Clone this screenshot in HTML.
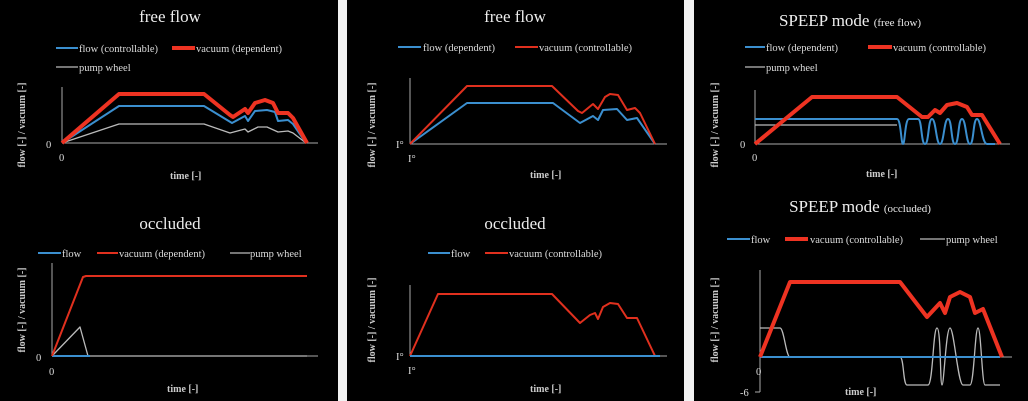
<!DOCTYPE html>
<html><head><meta charset="utf-8"><style>
html,body{margin:0;padding:0;background:#000;width:1028px;height:401px;overflow:hidden}
svg{display:block}
text{font-family:"Liberation Serif",serif;fill:#ddd}
.t{font-size:17px;text-anchor:middle;fill:#eee}
.l{font-size:10.5px}
.k{font-size:10px;font-weight:bold;fill:#ccc}
.ax{stroke:#aaa;stroke-width:1;fill:none}
.b{stroke:#3b8fcf;stroke-width:2;fill:none;stroke-linejoin:round}
.r{stroke:#e0301e;stroke-width:2;fill:none;stroke-linejoin:round}
.R{stroke:#ee3322;stroke-width:4;fill:none;stroke-linejoin:round}
.g{stroke:#bbb;stroke-width:1.3;fill:none;stroke-linejoin:round}
</style></head><body>
<svg width="1028" height="401" viewBox="0 0 1028 401" xmlns="http://www.w3.org/2000/svg">
<rect width="1028" height="401" fill="#000"/>
<rect x="338" y="0" width="9" height="401" fill="#f2f2f2"/>
<rect x="684" y="0" width="10" height="401" fill="#f2f2f2"/>

<!-- Panel 1 top -->
<text class="t" x="170" y="22">free flow</text>
<line x1="56" y1="48" x2="78" y2="48" class="b" stroke-width="3"/><text class="l" x="79" y="52">flow (controllable)</text>
<line x1="172" y1="48" x2="195" y2="48" class="R" stroke-width="3.5"/><text class="l" x="196" y="52">vacuum (dependent)</text>
<line x1="56" y1="67" x2="78" y2="67" class="g"/><text class="l" x="79" y="71">pump wheel</text>
<line x1="62" y1="87" x2="62" y2="143" class="ax"/><line x1="62" y1="143" x2="318" y2="143" class="ax"/>
<text class="l" x="46" y="148">0</text><text class="l" x="59" y="161">0</text>
<text class="k" x="170" y="179">time [-]</text>
<text class="k" transform="translate(25,125) rotate(-90)" text-anchor="middle">flow [-] / vacuum [-]</text>
<polyline class="g" points="62,143 119,124 204,124 230,133 245,129 248,132 258,127 267,127 278,132 288,131 293,133 306,143"/>
<polyline class="b" points="62,143 119,106 204,106 232,123 245,116 248,121 255,111 267,110 275,112 278,121 288,120 293,124 306,143"/>
<polyline class="R" stroke-width="3" points="62,143 119,94 204,94 230,115 233,117 245,109 248,113 255,103 265,100 273,103 278,113 288,113 293,118 307,143"/>

<!-- Panel 1 bottom -->
<text class="t" x="170" y="229">occluded</text>
<line x1="38" y1="253" x2="61" y2="253" class="b"/><text class="l" x="62" y="257">flow</text>
<line x1="97" y1="253" x2="118" y2="253" class="r"/><text class="l" x="119" y="257">vacuum (dependent)</text>
<line x1="230" y1="253" x2="250" y2="253" class="g" stroke-width="2"/><text class="l" x="250" y="257">pump wheel</text>
<line x1="52" y1="263" x2="52" y2="356" class="ax"/><line x1="52" y1="356" x2="318" y2="356" class="ax"/>
<text class="l" x="36" y="361">0</text><text class="l" x="49" y="375">0</text>
<text class="k" x="167" y="392">time [-]</text>
<text class="k" transform="translate(25,310) rotate(-90)" text-anchor="middle">flow [-] / vacuum [-]</text>
<polyline class="g" stroke-width="2" points="52,356 80,327 88,356 307,356"/>
<polyline class="b" points="52,356 90,356"/>
<polyline class="r" points="52,356 83,277 86,276 307,276"/>

<!-- Panel 2 top -->
<text class="t" x="515" y="22">free flow</text>
<line x1="398" y1="47" x2="421" y2="47" class="b" stroke-width="3"/><text class="l" x="423" y="51">flow (dependent)</text>
<line x1="515" y1="47" x2="538" y2="47" class="r"/><text class="l" x="539" y="51">vacuum (controllable)</text>
<line x1="410" y1="78" x2="410" y2="144" class="ax"/><line x1="410" y1="144" x2="667" y2="144" class="ax"/>
<text class="l" x="396" y="148">I°</text><text class="l" x="408" y="162">I°</text>
<text class="k" x="530" y="178">time [-]</text>
<text class="k" transform="translate(375,125) rotate(-90)" text-anchor="middle">flow [-] / vacuum [-]</text>
<polyline class="b" points="410,144 467,103 553,103 580,123 593,116 598,120 603,110 617,109 627,120 637,118 655,144"/>
<polyline class="r" points="410,144 467,86 552,86 578,111 582,113 593,104 598,109 605,97 610,94 618,95 627,110 635,108 640,113 655,144"/>

<!-- Panel 2 bottom -->
<text class="t" x="515" y="229">occluded</text>
<line x1="428" y1="253" x2="450" y2="253" class="b"/><text class="l" x="451" y="257">flow</text>
<line x1="485" y1="253" x2="508" y2="253" class="r"/><text class="l" x="509" y="257">vacuum (controllable)</text>
<line x1="410" y1="285" x2="410" y2="356" class="ax"/><line x1="410" y1="356" x2="667" y2="356" class="ax"/>
<text class="l" x="396" y="360">I°</text><text class="l" x="408" y="374">I°</text>
<text class="k" x="530" y="392">time [-]</text>
<text class="k" transform="translate(375,320) rotate(-90)" text-anchor="middle">flow [-] / vacuum [-]</text>
<polyline class="r" points="410,356 438,294 552,294 580,323 590,315 595,313 598,319 603,307 610,303 618,304 627,318 637,318 655,356"/>
<polyline class="b" points="410,356 660,356"/>

<!-- Panel 3 top -->
<text class="t" x="850" y="26">SPEEP mode <tspan font-size="11">(free flow)</tspan></text>
<line x1="745" y1="47" x2="765" y2="47" class="b" stroke-width="3"/><text class="l" x="766" y="51">flow (dependent)</text>
<line x1="868" y1="47" x2="892" y2="47" class="R"/><text class="l" x="893" y="51">vacuum (controllable)</text>
<line x1="745" y1="67" x2="765" y2="67" class="g" stroke-width="2"/><text class="l" x="766" y="71">pump wheel</text>
<line x1="755" y1="90" x2="755" y2="144" class="ax"/><line x1="755" y1="144" x2="1010" y2="144" class="ax"/>
<text class="l" x="740" y="148">0</text><text class="l" x="752" y="161">0</text>
<text class="k" x="866" y="177">time [-]</text>
<text class="k" transform="translate(718,125) rotate(-90)" text-anchor="middle">flow [-] / vacuum [-]</text>
<polyline class="g" points="755,125 897,125"/>
<path class="b" d="M755,119 L897,119 C901,119 901,144 903,144 C905,144 905,119 909,119 L918,119 C922,119 921,144 925,144 C929,144 928,119 932,119 C936,119 936,144 940,144 C944,144 944,119 948,119 C952,119 951,144 955,144 C959,144 958,119 962,119 C966,119 966,144 970,144 C974,144 973,119 977,119 C981,119 982,144 987,144 L995,144"/>
<polyline class="R" points="755,144 812,97 897,97 922,117 928,117 935,110 940,113 947,105 957,103 967,107 972,115 982,115 1000,144"/>

<!-- Panel 3 bottom -->
<text class="t" x="860" y="212">SPEEP mode <tspan font-size="11">(occluded)</tspan></text>
<line x1="727" y1="239" x2="750" y2="239" class="b"/><text class="l" x="751" y="243">flow</text>
<line x1="785" y1="239" x2="808" y2="239" class="R"/><text class="l" x="810" y="243">vacuum (controllable)</text>
<line x1="920" y1="239" x2="945" y2="239" class="g" stroke-width="2"/><text class="l" x="946" y="243">pump wheel</text>
<line x1="760" y1="270" x2="760" y2="392" class="ax"/><line x1="760" y1="357" x2="1012" y2="357" class="ax"/>
<line x1="755" y1="392" x2="760" y2="392" class="ax"/>
<text class="l" x="756" y="375">0</text><text class="l" x="740" y="396">-6</text>
<text class="k" x="845" y="395">time [-]</text>
<text class="k" transform="translate(718,320) rotate(-90)" text-anchor="middle">flow [-] / vacuum [-]</text>
<path class="g" d="M760,328 L780,328 C784,328 786,357 790,357 L900,357 C904,357 903,385 907,385 L928,385 C933,385 933,328 937,328 C941,328 940,385 942,385 C944,385 946,328 950,328 C954,328 958,385 963,385 L970,385 C974,385 975,328 978,328 C981,328 982,385 985,385 L1000,385"/>
<polyline class="b" points="760,357 1000,357"/>
<polyline class="R" points="760,357 790,282 900,282 927,317 940,303 945,313 950,297 960,292 970,297 975,313 983,309 1002,357"/>
</svg>
</body></html>
